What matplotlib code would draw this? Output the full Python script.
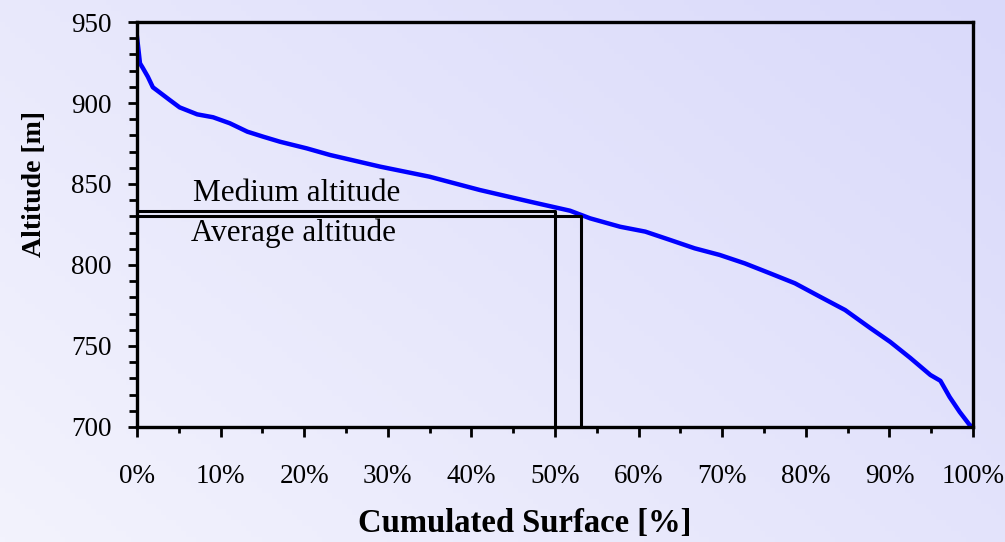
import numpy as np
import matplotlib
matplotlib.use("Agg")
import matplotlib.pyplot as plt
from matplotlib.ticker import MultipleLocator

plt.rcParams['font.family'] = ['Liberation Serif', 'DejaVu Serif']

# hypsometric curve
surface_pct = [0, 0.36, 0.7, 1.3, 1.9, 2.75, 3.9, 5.1, 7.2, 9.1, 11.1, 13.2, 15.1,
               17.1, 20.3, 23.1, 29.1, 35.0, 41.0, 47.0, 51.8, 54.2, 57.8, 60.8,
               63.8, 66.7, 69.7, 72.7, 75.7, 78.7, 81.7, 84.7, 87.7, 90.1, 92.5,
               94.9, 96.1, 97.2, 98.4, 99.6, 100]
altitude = [941, 924.5, 921.6, 916.2, 909.7, 906.4, 901.9, 897.3, 893, 891.2, 887.5,
            882.3, 879.2, 876.1, 872, 867.9, 860.7, 854.5, 846.3, 839.1, 833.5,
            828.8, 823.6, 820.6, 815.4, 810.3, 806.2, 801.0, 794.9, 788.7, 780.4,
            772.2, 761.1, 752.5, 742.6, 732.1, 728.5, 718.5, 709.3, 701.2, 700]

medium_alt = 833.3
medium_pct = 50.0
average_alt = 830.2
average_pct = 53.1

x_ticks = [0, 10, 20, 30, 40, 50, 60, 70, 80, 90, 100]
x_labels = ['0%', '10%', '20%', '30%', '40%', '50%', '60%', '70%', '80%', '90%', '100%']
y_ticks = [700, 750, 800, 850, 900, 950]

fig = plt.figure(figsize=(10.05, 5.42), dpi=100)

# lavender gradient background
bg = fig.add_axes([0, 0, 1, 1], zorder=-1)
gx, gy = np.meshgrid(np.linspace(0, 1, 200), np.linspace(0, 1, 100))
t = 0.6 * gx + 0.4 * gy
c0 = np.array([243, 243, 253]) / 255.0
c1 = np.array([217, 217, 250]) / 255.0
img = c0[None, None, :] * (1 - t[..., None]) + c1[None, None, :] * t[..., None]
bg.imshow(img, origin='lower', aspect='auto', extent=[0, 1, 0, 1])
bg.axis('off')

ax = fig.add_axes([0.1363, 0.2122, 0.8319, 0.7472])
ax.set_facecolor('none')

ax.plot(surface_pct, altitude, color='#0000ff', lw=3.2, solid_joinstyle='round')

ax.plot([0, medium_pct, medium_pct], [medium_alt, medium_alt, 700], color='black', lw=2.2)
ax.plot([0, average_pct, average_pct], [average_alt, average_alt, 700], color='black', lw=2.2)

ax.text(6.7, medium_alt + 2.0, 'Medium altitude', fontsize=22.5, va='bottom', ha='left')
ax.text(6.5, average_alt - 1.6, 'Average altitude', fontsize=22.5, va='top', ha='left')

ax.set_xlim(0, 100)
ax.set_ylim(700, 950)
ax.set_xticks(x_ticks)
ax.set_xticklabels(x_labels)
ax.set_yticks(y_ticks)
ax.xaxis.set_minor_locator(MultipleLocator(5))
ax.yaxis.set_minor_locator(MultipleLocator(10))

for s in ax.spines.values():
    s.set_linewidth(2.4)

ax.tick_params(axis='x', which='major', direction='out', length=7.5, width=2, pad=19, labelsize=19.5)
ax.tick_params(axis='x', which='minor', direction='out', length=4, width=2)
ax.tick_params(axis='y', which='major', direction='out', length=6.5, width=2, pad=12, labelsize=19.5)
ax.tick_params(axis='y', which='minor', direction='out', length=5.5, width=2)

ax.set_xlabel('Cumulated Surface [%]', fontsize=23.5, fontweight='bold')
ax.set_ylabel('Altitude [m]', fontsize=20, fontweight='bold')
ax.xaxis.set_label_coords(0.464, -0.2)
ax.yaxis.set_label_coords(-0.108, 0.6)

fig.savefig('out.png', dpi=100)
